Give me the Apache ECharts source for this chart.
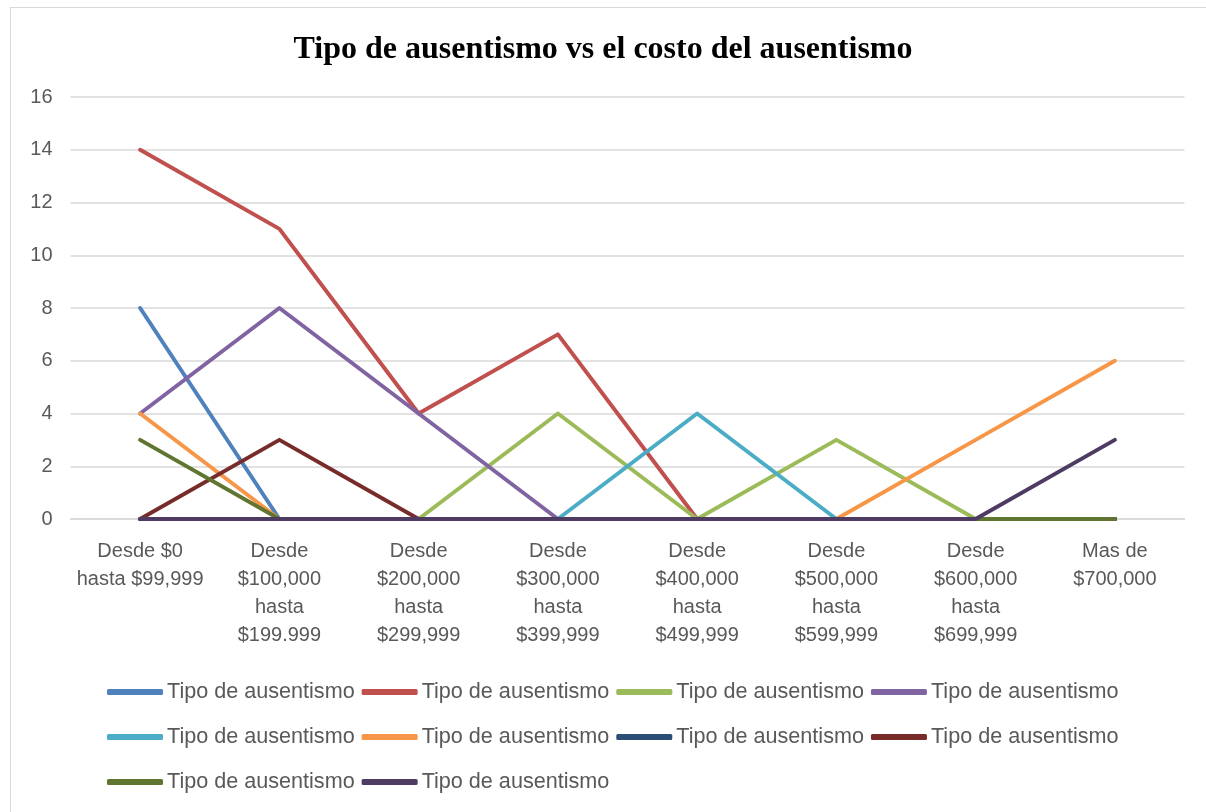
<!DOCTYPE html>
<html>
<head>
<meta charset="utf-8">
<script src="https://cdn.jsdelivr.net/npm/echarts@6/dist/echarts.min.js"></script>
<style>
html,body{margin:0;padding:0;background:#fff;}
#frame{position:absolute;left:10px;top:7px;width:1200px;height:810px;border:1px solid #D9D9D9;box-sizing:border-box;}
#chart{position:absolute;left:0;top:0;width:1206px;height:812px;}
</style>
</head>
<body>
<div id="frame"></div>
<div id="chart"></div>
<script>
const title = 'Tipo de ausentismo vs el costo del ausentismo';
const categories = [
  'Desde $0\nhasta $99,999',
  'Desde\n$100,000\nhasta\n$199.999',
  'Desde\n$200,000\nhasta\n$299,999',
  'Desde\n$300,000\nhasta\n$399,999',
  'Desde\n$400,000\nhasta\n$499,999',
  'Desde\n$500,000\nhasta\n$599,999',
  'Desde\n$600,000\nhasta\n$699,999',
  'Mas de\n$700,000'
];
const seriesName = 'Tipo de ausentismo';
const s1 = [8, 0, 0, 0, 0, 0, 0, 0];
const s2 = [14, 11, 4, 7, 0, 0, 0, 0];
const s3 = [0, 0, 0, 4, 0, 3, 0, 0];
const s4 = [4, 8, 4, 0, 0, 0, 0, 0];
const s5 = [0, 0, 0, 0, 4, 0, 0, 0];
const s6 = [4, 0, 0, 0, 0, 0, 3, 6];
const s7 = [0, 0, 0, 0, 0, 0, 0, 0];
const s8 = [0, 3, 0, 0, 0, 0, 0, 0];
const s9 = [3, 0, 0, 0, 0, 0, 0, 0];
const s10 = [0, 0, 0, 0, 0, 0, 0, 3];
const allSeries = [s1, s2, s3, s4, s5, s6, s7, s8, s9, s10];
const colors = ['#4F81BD', '#C0504D', '#9BBB59', '#8064A2', '#4BACC6', '#F79646', '#2C4D75', '#772C2A', '#5F7530', '#4D3B62'];

const chart = echarts.init(document.getElementById('chart'));
const font = '"Liberation Sans", Arial, sans-serif';
chart.setOption({
  animation: false,
  color: colors,
  title: {
    text: title,
    left: 'center',
    top: 29,
    textStyle: {fontFamily: '"Liberation Serif", "Times New Roman", serif', fontWeight: 'bold', fontSize: 32, color: '#000'}
  },
  grid: {left: 70.5, right: 21.5, top: 97, bottom: 293, containLabel: false},
  xAxis: {
    type: 'category',
    data: categories,
    boundaryGap: true,
    axisLine: {show: true, lineStyle: {color: '#D9D9D9', width: 1.5}},
    axisTick: {show: false},
    axisLabel: {fontFamily: font, fontSize: 20, color: '#595959', lineHeight: 28, margin: 18, interval: 0}
  },
  yAxis: {
    type: 'value',
    min: 0, max: 16, interval: 2,
    axisLine: {show: false},
    axisTick: {show: false},
    splitLine: {lineStyle: {color: '#D9D9D9', width: 1.5}},
    axisLabel: {fontFamily: font, fontSize: 20, color: '#595959', margin: 18}
  },
  legend: {
    left: 102,
    top: 668,
    width: 1070,
    icon: 'roundRect',
    itemWidth: 56,
    itemHeight: 6,
    itemGap: 7,
    textStyle: {fontFamily: font, fontSize: 21.6, color: '#595959', lineHeight: 38, padding: [0, 0, 0, -1]}
  },
  series: allSeries.map((d, i) => ({
    name: seriesName + (i === 0 ? '' : '\u200B'.repeat(i)),
    type: 'line',
    data: d,
    symbol: 'none',
    lineStyle: {width: 4, cap: 'round', join: 'round'},
    z: 2 + i
  }))
});
</script>
</body>
</html>
